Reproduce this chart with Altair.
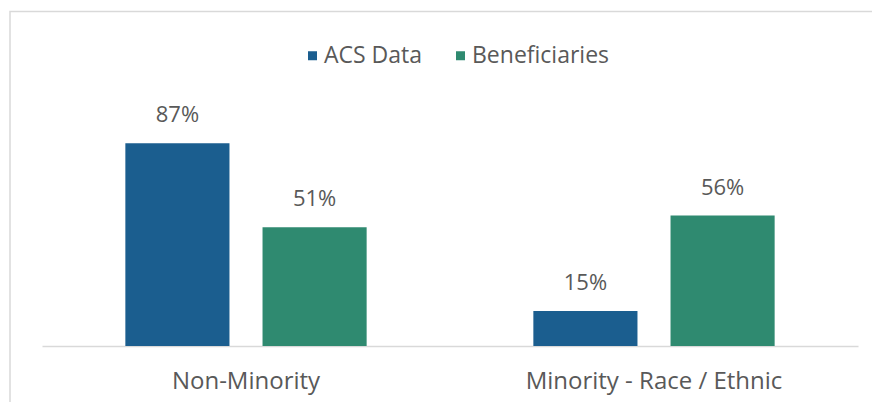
import altair as alt
import pandas as pd

categories = ["Non-Minority", "Minority - Race / Ethnic"]
series = ["ACS Data", "Beneficiaries"]
acs_values = [0.87, 0.15]
beneficiary_values = [0.51, 0.56]
colors = ["#1B5E8F", "#2F8A70"]

rows = []
for i, cat in enumerate(categories):
    rows.append({"category": cat, "series": series[0], "value": acs_values[i]})
    rows.append({"category": cat, "series": series[1], "value": beneficiary_values[i]})
df = pd.DataFrame(rows)

FONT = "Open Sans"
TXT = "#595959"

base = alt.Chart(df).encode(
    x=alt.X(
        "category:N",
        sort=categories,
        scale=alt.Scale(paddingInner=0.4086, paddingOuter=0.2043),
        axis=alt.Axis(
            title=None,
            labelAngle=0,
            ticks=False,
            domainColor="#d9d9d9",
            domainWidth=1.5,
            labelFontSize=24,
            labelColor=TXT,
            labelFont=FONT,
            labelPadding=23,
            labelLimit=0,
        ),
    ),
    xOffset=alt.XOffset("series:N", sort=series, scale=alt.Scale(paddingInner=0.241, paddingOuter=0)),
    y=alt.Y("value:Q", scale=alt.Scale(domain=[0, 1]), axis=None),
)

bars = base.mark_bar().encode(
    color=alt.Color(
        "series:N",
        sort=series,
        scale=alt.Scale(domain=series, range=colors),
        legend=alt.Legend(
            orient="none",
            legendX=259,
            legendY=-69,
            direction="horizontal",
            title=None,
            symbolType="square",
            symbolSize=81,
            symbolStrokeWidth=0,
            labelFontSize=23,
            labelColor=TXT,
            labelFont=FONT,
            columnPadding=26,
            labelOffset=0,
            labelLimit=0,
        ),
    )
)

labels = base.mark_text(dy=-21, baseline="alphabetic", fontSize=22, color=TXT, font=FONT).encode(
    text=alt.Text("value:Q", format=".0%")
)

frame = alt.Chart(pd.DataFrame({"f": [0]})).mark_rect(
    fillOpacity=0, stroke="#d9d9d9", strokeWidth=1.5
).encode(
    x=alt.value(-32), x2=alt.value(840), y=alt.value(-101.5), y2=alt.value(300)
)

chart = alt.layer(frame, bars, labels).properties(
    width=816,
    height=233,
    padding={"left": 34, "top": 105, "right": 14, "bottom": 56},
    autosize=alt.AutoSizeParams(type="none"),
    background="white",
).configure_view(stroke=None)

chart.save("out.html", embed_options={"renderer": "svg", "actions": False})
